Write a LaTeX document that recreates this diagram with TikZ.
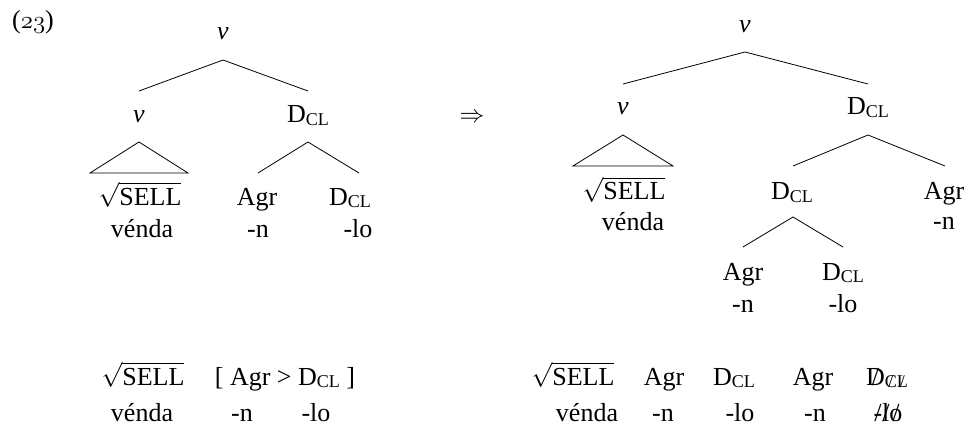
\documentclass[tikz,border=0pt]{standalone}
\usepackage{fontspec}
\setmainfont{Liberation Serif}
\usepackage{amsmath}
\newcommand\DCL{D\raisebox{-2.5pt}{\fontsize{18}{18}\selectfont CL}}
\newcommand\strk[1]{\ooalign{#1\cr\hidewidth/\hidewidth\cr}}
\newcommand\SELLroot{$\sqrt{\text{SELL}}$}
\newcommand\DCLdel{\strk{D}\raisebox{-2.5pt}{\fontsize{18}{18}\selectfont\strk{C}\strk{L}}}
\begin{document}
\begin{tikzpicture}[x=1pt,y=-1pt,
  every node/.style={inner sep=0pt, anchor=base, font=\fontsize{26}{30}\selectfont},
  branch/.style={line width=0.8pt}]
\useasboundingbox (0,0) rectangle (964,425);

% example number
\node[anchor=base west] (num) at (12,29) {\fontsize{26}{30}\selectfont($\mathnormal{23}$)};

% ---------- left tree ----------
\node (Lroot) at (223,40) {\textit{v}};
\coordinate (Lra) at (223,60);
\coordinate (Lrl) at (139,91);
\coordinate (Lrr) at (308,91);
\draw[branch] (Lrl) -- (Lra) -- (Lrr);
\node (Lv) at (139,123) {\textit{v}};
\node (Ld) at (308,123) {\DCL};
\coordinate (Lta) at (139,142);
\coordinate (Ltl) at (90,173);
\coordinate (Ltr) at (188,173);
\draw[branch] (Lta) -- (Ltl) -- (Ltr) -- cycle;
\coordinate (Lda) at (308,142);
\coordinate (Ldl) at (258,173);
\coordinate (Ldr) at (359,173);
\draw[branch] (Ldl) -- (Lda) -- (Ldr);
\node (Lsell) at (140,205) {\SELLroot};
\node (Lvenda) at (142,237) {vénda};
\node (Lagr) at (257,205) {Agr};
\node (Ln) at (258,237) {-n};
\node (Ldcl) at (350,205) {\DCL};
\node (Llo) at (358,237) {-lo};

% arrow
\node (arr) at (472,123) {\fontsize{25}{28}\selectfont$\Rightarrow$};

% ---------- right tree ----------
\node (Rroot) at (745,33) {\textit{v}};
\coordinate (Rra) at (745,52);
\coordinate (Rrl) at (623,84);
\coordinate (Rrr) at (868,84);
\draw[branch] (Rrl) -- (Rra) -- (Rrr);
\node (Rv) at (623,115) {\textit{v}};
\node (Rd) at (868,115) {\DCL};
\coordinate (Rta) at (623,135);
\coordinate (Rtl) at (573,166);
\coordinate (Rtr) at (673,166);
\draw[branch] (Rta) -- (Rtl) -- (Rtr) -- cycle;
\coordinate (Rda) at (868,135);
\coordinate (Rdl) at (793,166);
\coordinate (Rdr) at (945,166);
\draw[branch] (Rdl) -- (Rda) -- (Rdr);
\node (Rsell) at (624,200) {\SELLroot};
\node (Rvenda) at (633,230) {vénda};
\node (Rdmid) at (792,200) {\DCL};
\node (Ragr) at (944,199) {Agr};
\node (Rn) at (944,229) {-n};
\coordinate (Rma) at (793,217);
\coordinate (Rml) at (743,247);
\coordinate (Rmr) at (843,247);
\draw[branch] (Rml) -- (Rma) -- (Rmr);
\node (Ragr2) at (743,280) {Agr};
\node (Rn2) at (743,312) {-n};
\node (Rd2) at (843,280) {\DCL};
\node (Rlo2) at (843,312) {-lo};

% ---------- bottom left linearisation ----------
\node (BLsell) at (143,385) {\SELLroot};
\node (BLvenda) at (142,421) {vénda};
\node (BLbr) at (285,385) {[ Agr > \DCL\ ]};
\node (BLn) at (242,421) {-n};
\node (BLlo) at (316,421) {-lo};

% ---------- bottom right linearisation ----------
\node (BRsell) at (573,385) {\SELLroot};
\node (BRvenda) at (587,421) {vénda};
\node (BRagr) at (664,385) {Agr};
\node (BRn) at (663,421) {-n};
\node (BRd) at (734,385) {\DCL};
\node (BRlo) at (740,421) {-lo};
\node (BRagr2) at (813,385) {Agr};
\node (BRn2) at (815,421) {-n};
\node (BRdel) at (887,385) {\DCLdel};
\node (BRlodel) at (888,421) {\strk{-}\strk{l}\strk{o}};
\end{tikzpicture}
\end{document}
